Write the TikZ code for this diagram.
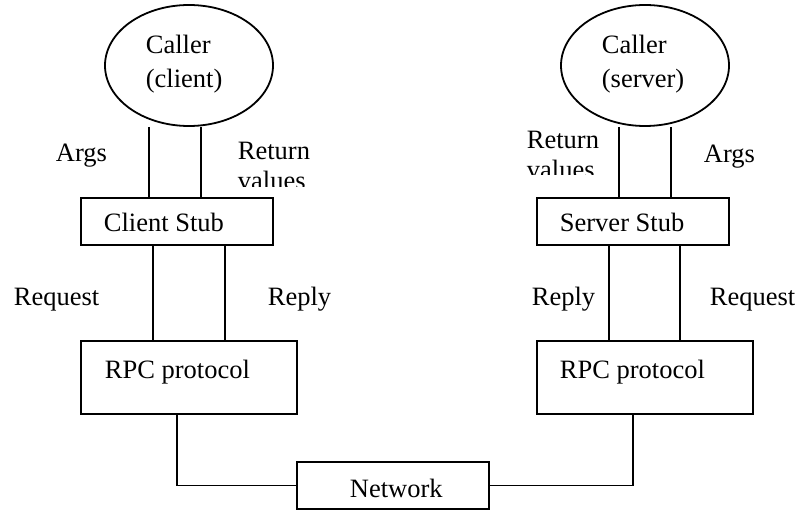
\documentclass[tikz,border=0pt]{standalone}
\usepackage{fontspec}
\setmainfont{Liberation Serif}
\usetikzlibrary{shapes.geometric}
\begin{document}
\begin{tikzpicture}[x=1pt,y=-1pt,
  line width=1.8pt,
  every node/.style={inner sep=0pt},
  caller/.style={draw,ellipse,minimum width=168pt,minimum height=121pt},
  box/.style={draw,rectangle,minimum width=192pt,minimum height=47pt},
  bigbox/.style={draw,rectangle,minimum width=216pt,minimum height=73pt},
  lbl/.style={anchor=base west,font=\fontsize{26.5}{30}\selectfont}]
\useasboundingbox (0,0) rectangle (799,510);

% shapes
\node[caller] (cc) at (189,65.5) {};
\node[caller] (sc) at (645,65.5) {};
\node[box] (cs) at (177,221.5) {};
\node[box] (ss) at (633,221.5) {};
\node[bigbox] (rc) at (189,377.5) {};
\node[bigbox] (rs) at (645,377.5) {};
\node[box] (net) at (393,485.5) {};

% texts
\node[lbl] (t1) at (145,54) {Caller};
\node[lbl] (t2) at (145,88) {(client)};
\node[lbl] (t3) at (601,54) {Caller};
\node[lbl] (t4) at (601,88) {(server)};
\node[lbl] (t5) at (103,232) {Client Stub};
\node[lbl] (t6) at (559,232) {Server Stub};
\node[lbl] (t7) at (104,378) {RPC protocol};
\node[lbl] (t8) at (559,378) {RPC protocol};
\node[lbl] (t9) at (349,497) {Network};
\node[lbl] (a1) at (55,162) {Args};
\node[lbl] (a2) at (703,163) {Args};
\node[lbl] (r1) at (237,160) {Return};
\node[lbl] (r2) at (526,149) {Return};
\begin{scope}
  \clip (200,170) rectangle (330,187);
  \node[lbl] (v1) at (237,190) {values};
\end{scope}
\begin{scope}
  \clip (500,158) rectangle (610,175);
  \node[lbl] (v2) at (526,179) {values};
\end{scope}
\node[lbl] (q1) at (13,305) {Request};
\node[lbl] (p1) at (267,305) {Reply};
\node[lbl] (p2) at (531,305) {Reply};
\node[lbl] (q2) at (709,305) {Request};

% connectors
\draw (cc.south -| 149,0) -- (cs.north -| 149,0);
\draw (cc.south -| 201,0) -- (cs.north -| 201,0);
\draw (sc.south -| 619,0) -- (ss.north -| 619,0);
\draw (sc.south -| 671,0) -- (ss.north -| 671,0);
\draw (cs.south -| 153,0) -- (rc.north -| 153,0);
\draw (cs.south -| 225,0) -- (rc.north -| 225,0);
\draw (ss.south -| 609,0) -- (rs.north -| 609,0);
\draw (ss.south -| 680,0) -- (rs.north -| 680,0);
\draw (rc.south -| 177,0) |- (net.west);
\draw (net.east) -| (rs.south -| 633,0);
\end{tikzpicture}
\end{document}
